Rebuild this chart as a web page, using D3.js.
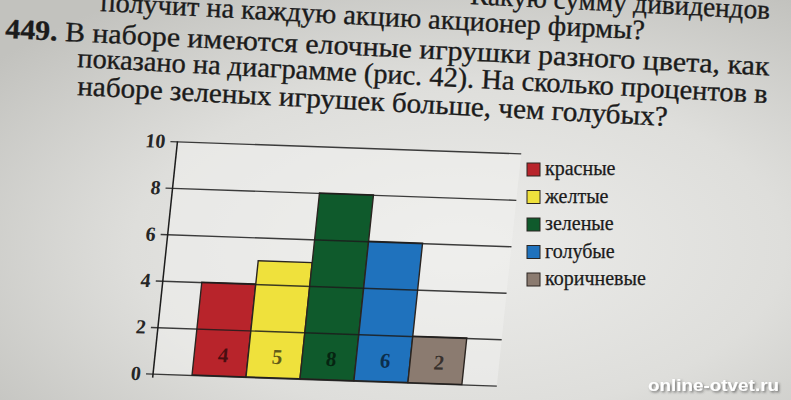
<!DOCTYPE html>
<html>
<head>
<meta charset="utf-8">
<script src="https://cdn.jsdelivr.net/npm/d3@7/dist/d3.min.js"></script>
<style>
  html, body { margin: 0; padding: 0; background: #d6d6d3; }
  svg { display: block; }
</style>
</head>
<body>
<svg id="chart" width="791" height="400"></svg>
<script>
// ---------- data ----------
const categories = ["красные", "желтые", "зеленые", "голубые", "коричневые"];
const values = [4, 5, 8, 6, 2];
const valueLabels = ["4", "5", "8", "6", "2"];
const barColors = ["#b8242b", "#efe13c", "#0f5a2c", "#1f72bd", "#8b7b70"];
const yTicks = [0, 2, 4, 6, 8, 10];
const yTickLabels = ["0", "2", "4", "6", "8", "10"];
const textLines = [
  "Какую сумму дивидендов",
  "получит на каждую акцию акционер фирмы?",
  "449. В наборе имеются елочные игрушки разного цвета, как",
  "показано на диаграмме (рис. 42). На сколько процентов в",
  "наборе зеленых игрушек больше, чем голубых?"
];
const watermark = "online-otvet.ru";

// ---------- layout (not data) ----------
const textLayout = [
  { x: 470, y: 4,  len: 300, ang: 2.9 },
  { x: 100, y: 11, len: 545, ang: 3.0 },
  { x: 5,   y: 38, len: 765, ang: 2.8 },
  { x: 77,  y: 67, len: 691, ang: 3.0 },
  { x: 77,  y: 95, len: 591, ang: 3.0 }
];

const svg = d3.select("#chart");
const W = 791, H = 400;
const serif = "'Liberation Serif', 'DejaVu Serif', serif";

// paper background
const defs = svg.append("defs");
const rg = defs.append("radialGradient").attr("id", "paper")
  .attr("cx", "58%").attr("cy", "62%").attr("r", "75%");
rg.append("stop").attr("offset", "0%").attr("stop-color", "#ececea");
rg.append("stop").attr("offset", "55%").attr("stop-color", "#dededb");
rg.append("stop").attr("offset", "100%").attr("stop-color", "#c2c2be");
const sh = defs.append("filter").attr("id", "shadow")
  .attr("x", "-10%").attr("y", "-30%").attr("width", "130%").attr("height", "160%");
sh.append("feDropShadow").attr("dx", 1.5).attr("dy", 1.5).attr("stdDeviation", 1.2)
  .attr("flood-color", "#333").attr("flood-opacity", 0.6);
svg.append("rect").attr("width", W).attr("height", H).attr("fill", "url(#paper)");

// ---------- heading text ----------
const tg = svg.append("g")
  .attr("font-family", serif)
  .attr("font-size", 28)
  .attr("fill", "#1b1b1b")
  .attr("stroke", "#1b1b1b")
  .attr("stroke-width", 0.35);
textLines.forEach((t, i) => {
  const L = textLayout[i];
  const txt = tg.append("text")
    .attr("x", L.x).attr("y", L.y)
    .attr("textLength", L.len)
    .attr("lengthAdjust", "spacingAndGlyphs")
    .attr("transform", `rotate(${L.ang},${L.x},${L.y})`);
  if (t.startsWith("449.")) {
    txt.append("tspan").attr("font-weight", "bold").text("449.");
    txt.append("tspan").text(t.slice(4));
  } else {
    txt.text(t);
  }
});

// ---------- chart ----------
const axisX = 172, gridLeft = 165, gridRight = 516;
const x = d3.scaleBand().domain(categories).range([211, 481]).padding(0);
const y = d3.scaleLinear().domain([0, 10]).range([382, 149]);

const cg = svg.append("g")
  .attr("transform", "translate(395,200) rotate(2) skewX(-4) translate(-395,-200)");

// plot area lighter paper
cg.append("rect")
  .attr("x", axisX).attr("y", y(10))
  .attr("width", gridRight - axisX).attr("height", y(0) - y(10))
  .attr("fill", "#f0f0ee").attr("opacity", 0.55);

// bars
cg.selectAll("rect.bar")
  .data(categories)
  .join("rect")
  .attr("class", "bar")
  .attr("x", d => x(d))
  .attr("width", x.bandwidth())
  .attr("y", (d, i) => y(values[i]))
  .attr("height", (d, i) => y(0) - y(values[i]))
  .attr("fill", (d, i) => barColors[i])
  .attr("stroke", "#2a2420")
  .attr("stroke-width", 1.4);

// bar value labels
cg.selectAll("text.val")
  .data(categories)
  .join("text")
  .attr("class", "val")
  .attr("x", d => x(d) + x.bandwidth() / 2 + 2)
  .attr("y", y(0.9))
  .attr("text-anchor", "middle")
  .attr("dominant-baseline", "central")
  .attr("font-family", serif)
  .attr("font-weight", "bold")
  .attr("font-size", 21)
  .attr("fill", "#000")
  .attr("fill-opacity", 0.6)
  .text((d, i) => valueLabels[i]);

// y axis with gridlines (ticks extend across)
const yAxis = d3.axisLeft(y)
  .tickValues(yTicks)
  .tickFormat((d, i) => yTickLabels[i])
  .tickSizeInner(-(gridRight - gridLeft))
  .tickSizeOuter(0)
  .tickPadding(5);
const ag = cg.append("g")
  .attr("transform", `translate(${gridLeft},0)`)
  .call(yAxis);
ag.select(".domain").remove();
ag.selectAll(".tick line")
  .attr("stroke", "#1c1c1c")
  .attr("stroke-width", 1.4)
  .attr("stroke-opacity", 0.85);
ag.selectAll(".tick text")
  .attr("font-family", serif)
  .attr("font-weight", "bold")
  .attr("font-size", 20)
  .attr("fill", "#262626");

// vertical axis line
cg.append("line")
  .attr("x1", axisX).attr("x2", axisX)
  .attr("y1", y(0) + 4).attr("y2", y(10))
  .attr("stroke", "#1c1c1c").attr("stroke-width", 1.5);

// ---------- legend ----------
const ly = d3.scalePoint().domain(categories).range([169.5, 279.5]);
const lg = svg.append("g");
const items = lg.selectAll("g.item").data(categories).join("g").attr("class", "item")
  .attr("transform", d => `translate(527,${ly(d)})`);
items.append("rect")
  .attr("x", 0).attr("y", -6.5).attr("width", 13).attr("height", 13)
  .attr("fill", (d, i) => barColors[i])
  .attr("stroke", "#2a2420").attr("stroke-width", 1);
items.append("text")
  .attr("x", 18).attr("y", 5.5)
  .attr("font-family", serif)
  .attr("font-size", 20)
  .attr("fill", "#1b1b1b")
  .attr("stroke", "#1b1b1b").attr("stroke-width", 0.25)
  .text(d => d);

// ---------- watermark ----------
svg.append("text")
  .attr("x", 648).attr("y", 391)
  .attr("textLength", 131).attr("lengthAdjust", "spacingAndGlyphs")
  .attr("font-family", "'Liberation Sans', Arial, sans-serif")
  .attr("font-weight", "bold").attr("font-size", 17)
  .attr("fill", "#ffffff")
  .attr("filter", "url(#shadow)")
  .text(watermark);
</script>
</body>
</html>
